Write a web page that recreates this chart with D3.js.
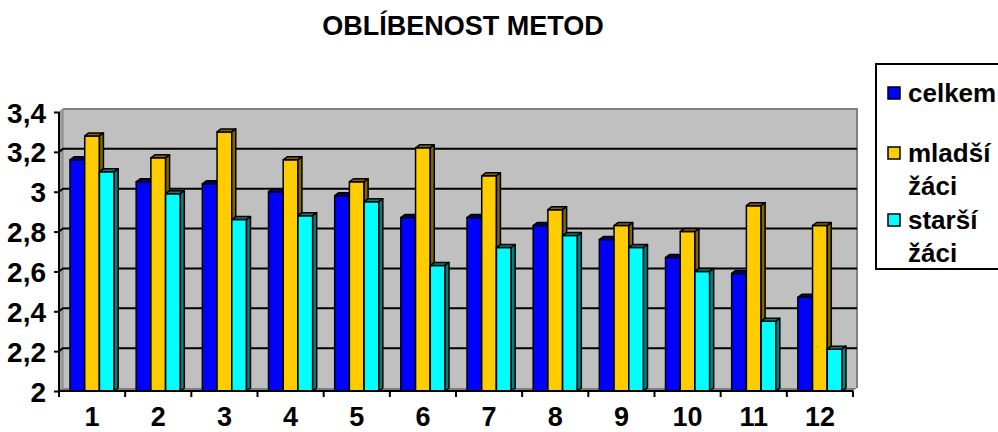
<!DOCTYPE html>
<html lang="cs">
<head>
    <meta charset="UTF-8">
    <title>Oblíbenost metod</title>
    <script src="https://d3js.org/d3.v7.min.js"></script>
    <style>
        body { margin: 0; background: #fff; }
        text { font-family: "Liberation Sans", Arial, sans-serif; font-weight: bold; fill: #000; }
    </style>
</head>
<body>
<script>
    // data
    let categories = ["1", "2", "3", "4", "5", "6", "7", "8", "9", "10", "11", "12"];
    let seriesNames = ["celkem", "mladší žáci", "starší žáci"];
    let celkem = [3.16, 3.05, 3.04, 3.00, 2.98, 2.87, 2.87, 2.83, 2.76, 2.67, 2.59, 2.47];
    let mladsi = [3.28, 3.17, 3.30, 3.16, 3.05, 3.22, 3.08, 2.91, 2.83, 2.80, 2.93, 2.83];
    let starsi = [3.10, 2.99, 2.86, 2.88, 2.95, 2.63, 2.72, 2.78, 2.72, 2.60, 2.35, 2.21];
    let yTicks = [2, 2.2, 2.4, 2.6, 2.8, 3, 3.2, 3.4];

    let values = [celkem, mladsi, starsi];
    let fronts = ["#0000FF", "#FFCC00", "#00FFFF"];
    let darks = ["#000080", "#806600", "#008080"];

    let W = 998, H = 432;
    let pLeft = 59, pRight = 853, pTop = 112, pBottom = 391;
    let dx = 4, dy = -3; // depth of the 3d effect

    let svg = d3.select("body").append("svg")
        .attr("width", W)
        .attr("height", H);

    let x = d3.scaleBand()
        .domain(categories)
        .range([pLeft, pRight]);
    let xs = d3.scaleBand()
        .domain(d3.range(3))
        .range([11, x.bandwidth() - 11]);
    let y = d3.scaleLinear()
        .domain([2, 3.4])
        .range([pBottom, pTop]);

    // title
    svg.append("text")
        .attr("x", 463).attr("y", 35)
        .attr("text-anchor", "middle")
        .style("font-size", "27px")
        .text("OBLÍBENOST METOD");

    // walls
    svg.append("polygon")
        .attr("points", [[pLeft + dx, pTop + dy], [pRight + dx, pTop + dy], [pRight + dx, pBottom + dy], [pLeft + dx, pBottom + dy]].join(" "))
        .attr("fill", "#C0C0C0");
    svg.append("polyline")
        .attr("points", [[pLeft + dx, pTop + dy], [pRight + dx, pTop + dy], [pRight + dx, pBottom + dy]].join(" "))
        .attr("fill", "none").attr("stroke", "#808080").attr("stroke-width", 2);
    // side wall
    svg.append("polygon")
        .attr("points", [[pLeft, pTop], [pLeft + dx, pTop + dy], [pLeft + dx, pBottom + dy], [pLeft, pBottom]].join(" "))
        .attr("fill", "#A0A0A0").attr("stroke", "#808080").attr("stroke-width", 1);
    // floor
    svg.append("polygon")
        .attr("points", [[pLeft, pBottom], [pLeft + dx, pBottom + dy], [pRight + dx, pBottom + dy], [pRight, pBottom]].join(" "))
        .attr("fill", "#808080");

    // gridlines
    svg.append("g").selectAll("polyline")
        .data(yTicks.slice(1, -1))
        .enter().append("polyline")
        .attr("points", d => [[pLeft, y(d)], [pLeft + dx, y(d) + dy], [pRight + dx, y(d) + dy]].join(" "))
        .attr("fill", "none")
        .attr("stroke", "#000")
        .attr("stroke-width", 2);

    // bars
    let bars = svg.append("g");
    categories.forEach(function (c, i) {
        values.forEach(function (vals, s) {
            let x0 = x(c) + xs(s), w = xs.bandwidth();
            let y0 = y(vals[i]), yb = y(2);
            let g = bars.append("g")
                .attr("stroke", "#000")
                .attr("stroke-width", 1.5)
                .attr("stroke-linejoin", "round");
            g.append("rect")
                .attr("x", x0).attr("y", y0)
                .attr("width", w).attr("height", yb - y0)
                .attr("fill", fronts[s]);
            g.append("polygon")
                .attr("points", [[x0, y0], [x0 + w, y0], [x0 + w + dx, y0 + dy], [x0 + dx, y0 + dy]].join(" "))
                .attr("fill", darks[s]);
            g.append("polygon")
                .attr("points", [[x0 + w, y0], [x0 + w + dx, y0 + dy], [x0 + w + dx, yb + dy], [x0 + w, yb]].join(" "))
                .attr("fill", darks[s]);
        });
    });

    // y axis
    let yAxis = svg.append("g")
        .attr("transform", `translate(${pLeft},0)`)
        .call(d3.axisLeft(y).tickValues(yTicks).tickSize(5).tickPadding(8)
            .tickFormat(d => String(+d.toFixed(1)).replace(".", ",")));
    yAxis.select(".domain").attr("stroke-width", 2).attr("d", `M0,${pTop}V${pBottom}`);
    yAxis.selectAll(".tick line").attr("stroke-width", 2);
    yAxis.selectAll("text")
        .attr("dy", "0.36em")
        .style("font-size", "28px");
    yAxis.attr("font-family", null);

    // x axis
    let xAxis = svg.append("g")
        .attr("transform", `translate(0,${pBottom})`)
        .call(d3.axisBottom(x).tickSize(0).tickPadding(16));
    xAxis.select(".domain").attr("stroke-width", 2).attr("d", `M${pLeft},0H${pRight}`);
    xAxis.selectAll("text")
        .style("font-size", "27px");
    xAxis.attr("font-family", null);
    xAxis.selectAll(".sep")
        .data(d3.range(categories.length + 1))
        .enter().append("line")
        .attr("x1", d => pLeft + d * x.step())
        .attr("x2", d => pLeft + d * x.step())
        .attr("y1", 0).attr("y2", 6)
        .attr("stroke", "#000").attr("stroke-width", 2);

    // legend
    let legend = svg.append("g");
    legend.append("rect")
        .attr("x", 876).attr("y", 64)
        .attr("width", 140).attr("height", 205)
        .attr("fill", "#fff").attr("stroke", "#000").attr("stroke-width", 2);
    let legendRows = [
        {lines: ["celkem"], y: 97},
        {lines: ["mladší", "žáci"], y: 157},
        {lines: ["starší", "žáci"], y: 224}
    ];
    legendRows.forEach(function (r, s) {
        legend.append("rect")
            .attr("x", 888).attr("y", r.y - 10)
            .attr("width", 12).attr("height", 12)
            .attr("fill", fronts[s]).attr("stroke", "#000").attr("stroke-width", 1.5);
        r.lines.forEach(function (t, k) {
            legend.append("text")
                .attr("x", 908).attr("y", r.y + 5 + k * 33)
                .style("font-size", "26px")
                .text(t);
        });
    });
</script>
</body>
</html>
